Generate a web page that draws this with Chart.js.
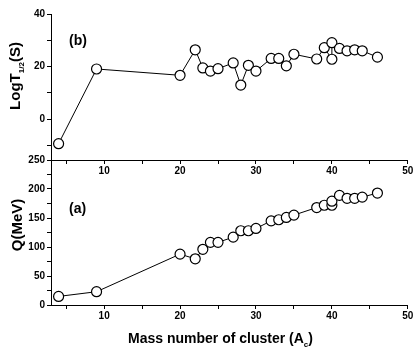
<!DOCTYPE html>
<html>
<head>
<meta charset="utf-8">
<script src="https://cdn.jsdelivr.net/npm/chart.js@4/dist/chart.umd.min.js"></script>
<style>
  body { margin: 0; background: #fff; }
  #wrap { position: relative; width: 414px; height: 354px; overflow: hidden; font-family: "Liberation Sans", Arial, sans-serif; font-weight: bold; color: #000; }
  canvas { position: absolute; left: 0; }
  #cTop { top: 0; }
  #cBot { top: 150px; }
  .lbl { position: absolute; white-space: nowrap; }
  .rot { transform: translate(-50%, -50%) rotate(-90deg); }
</style>
</head>
<body>
<div id="wrap">
  <canvas id="cTop" width="414" height="185"></canvas>
  <canvas id="cBot" width="414" height="204"></canvas>
  <div class="lbl rot" style="left:16px; top:76px; font-size:15px;">LogT<sub style="font-size:8px;">1/2</sub>(S)</div>
  <div class="lbl rot" style="left:16px; top:225px; font-size:15px;">Q(MeV)</div>
  <div class="lbl" style="left:69px; top:32px; font-size:14px;">(b)</div>
  <div class="lbl" style="left:69px; top:200px; font-size:14px;">(a)</div>
  <div class="lbl" style="left:128px; top:330px; font-size:14px;">Mass number of cluster (A<sub style="font-size:8px;">c</sub>)</div>
</div>
<script>
// cluster mass numbers and values
const massT = [4, 9, 20, 22, 23, 24, 25, 27, 28, 29, 30, 32, 33, 34, 35, 38, 39, 40, 40, 41, 42, 43, 44, 46];
const logT = [-9.3, 19.1, 16.7, 26.4, 19.5, 18.3, 19.2, 21.4, 13.0, 20.5, 18.3, 23.1, 23.1, 20.3, 24.7, 22.9, 27.2, 22.8, 29.1, 26.9, 26.0, 26.4, 26.0, 23.6];
const massQ = [4, 9, 20, 22, 23, 24, 25, 27, 28, 29, 30, 32, 33, 34, 35, 38, 39, 40, 40, 41, 42, 43, 44, 46];
const qVal = [14.8, 22.9, 87.7, 79.6, 96, 108, 108, 117, 128, 128, 132, 145, 147, 151, 155, 168, 172, 172, 179, 189, 184, 184, 186, 193];
const xTicks = [5, 10, 15, 20, 25, 30, 35, 40, 45, 50];
const yTicksT = [-10, 0, 10, 20, 30, 40];
const yTicksQ = [0, 25, 50, 75, 100, 125, 150, 175, 200, 225, 250];

Chart.defaults.color = '#000';
Chart.defaults.font.family = '"Liberation Sans", Arial, sans-serif';
Chart.defaults.font.weight = 'bold';
Chart.defaults.font.size = 10;

function pts(xs, ys) {
  const out = [];
  for (var i = 0; i < xs.length; i++) out.push({ x: xs[i], y: ys[i] });
  return out;
}

function xAxis(h) {
  return {
    type: 'linear', min: 3, max: 50,
    afterBuildTicks: function (a) { a.ticks = xTicks.map(v => ({ value: v })); },
    afterFit: function (a) { a.height = h; a.paddingLeft = 0; a.paddingRight = 0; },
    ticks: { autoSkip: false, maxRotation: 0, padding: 1, callback: v => (v % 10 === 0 ? v : '') },
    grid: { drawOnChartArea: false, tickLength: 4, color: '#000' },
    border: { color: '#000', width: 1 }
  };
}

function yAxis(min, max, list, every) {
  return {
    type: 'linear', min: min, max: max,
    afterBuildTicks: function (a) { a.ticks = list.map(v => ({ value: v })); },
    afterFit: function (a) { a.width = 51; a.paddingTop = 0; a.paddingBottom = 0; },
    ticks: { autoSkip: false, padding: 2, callback: v => (v % every === 0 ? v : '') },
    grid: { drawOnChartArea: false, tickLength: 4, color: '#000' },
    border: { color: '#000', width: 1 }
  };
}

function series(data) {
  return {
    data: data,
    showLine: true,
    borderColor: '#000',
    borderWidth: 1,
    backgroundColor: '#fff',
    pointBorderColor: '#000',
    pointBackgroundColor: '#fff',
    pointBorderWidth: 1.2,
    pointRadius: 5
  };
}

const common = {
  responsive: false,
  animation: false,
  plugins: { legend: { display: false }, tooltip: { enabled: false } }
};

new Chart(document.getElementById('cTop').getContext('2d'), {
  type: 'scatter',
  data: { datasets: [series(pts(massT, logT))] },
  options: Object.assign({}, common, {
    layout: { padding: { top: 14, right: 4, left: 0, bottom: 0 } },
    scales: { x: xAxis(25), y: yAxis(-15.5, 40, yTicksT, 20) }
  })
});

new Chart(document.getElementById('cBot').getContext('2d'), {
  type: 'scatter',
  data: { datasets: [series(pts(massQ, qVal))] },
  options: Object.assign({}, common, {
    layout: { padding: { top: 10, right: 4, left: 0, bottom: 0 } },
    scales: { x: xAxis(49), y: yAxis(0, 250, yTicksQ, 50) }
  })
});
</script>
</body>
</html>
